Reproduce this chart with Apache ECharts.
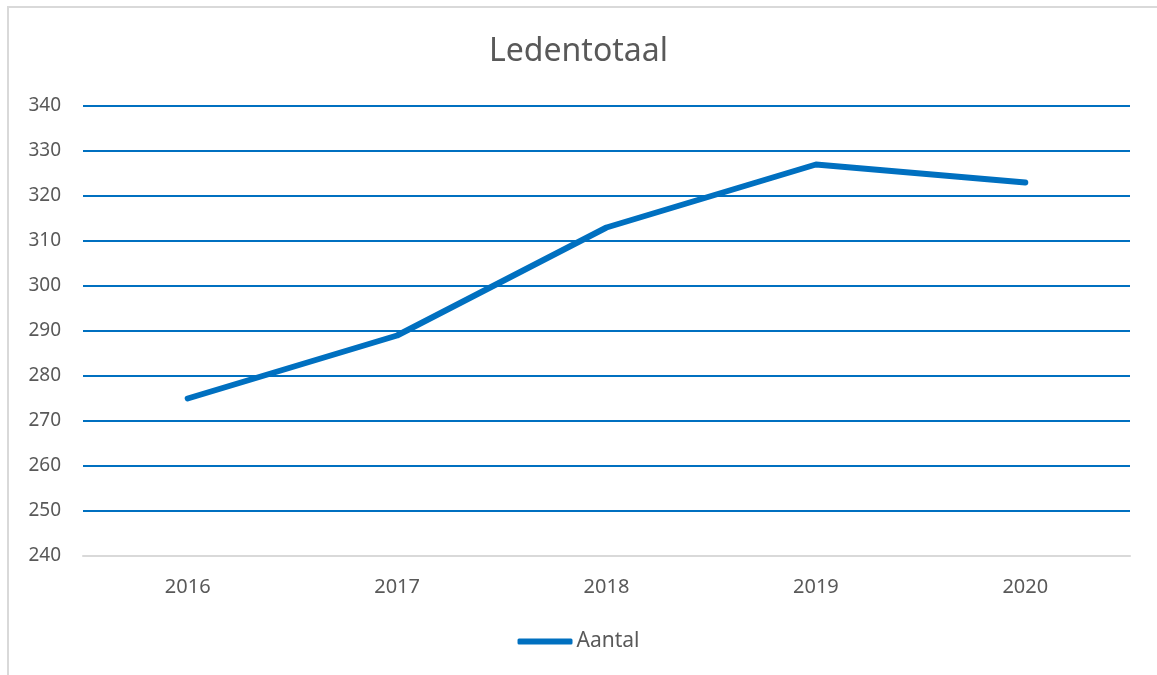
<!DOCTYPE html>
<html lang="nl">
<head>
    <meta charset="UTF-8">
    <title>Ledentotaal</title>
    <script src="https://cdn.jsdelivr.net/npm/echarts@6/dist/echarts.min.js"></script>
    <style>
        html, body { margin: 0; padding: 0; background: #fff; }
        #frame { position: absolute; left: 7px; top: 6px; width: 1160px; height: 680px;
                 border: 2px solid #d9d9d9; box-sizing: border-box; }
        #main { position: absolute; left: 0; top: 0; width: 1157px; height: 675px; }
    </style>
</head>
<body>
<div id="frame"></div>
<div id="main"></div>
<script type="text/javascript">
    // data
    var years = ['2016', '2017', '2018', '2019', '2020'];
    var aantal = [275, 289, 313, 327, 323];
    var yMin = 240, yMax = 340, yStep = 10;

    var blue = '#0070C0';
    var grey = '#595959';
    var font = 'Noto Sans';

    var myChart = echarts.init(document.getElementById('main'));
    var option = {
        animation: false,
        title: {
            text: 'Ledentotaal',
            left: 'center',
            top: 31,
            textStyle: { color: grey, fontSize: 32, fontWeight: 'normal', fontFamily: font }
        },
        legend: {
            bottom: 18,
            left: 'center',
            icon: 'roundRect',
            itemWidth: 55,
            itemHeight: 6,
            itemGap: 4,
            textStyle: { color: grey, fontSize: 21, fontFamily: font, padding: [0, 0, 0, -1] },
            data: ['Aantal']
        },
        grid: {
            left: 83,
            right: 27,
            top: 106,
            bottom: 119
        },
        xAxis: {
            type: 'category',
            data: years,
            boundaryGap: true,
            axisLine: { lineStyle: { color: '#d9d9d9', width: 2 } },
            axisTick: { show: false },
            axisLabel: { color: grey, fontSize: 20, fontFamily: font, margin: 21 }
        },
        yAxis: {
            type: 'value',
            min: yMin,
            max: yMax,
            interval: yStep,
            axisLine: { show: false },
            axisTick: { show: false },
            axisLabel: { color: grey, fontSize: 19, fontFamily: font, margin: 22 },
            splitLine: { lineStyle: { color: blue, width: 2 } }
        },
        series: [
            {
                name: 'Aantal',
                type: 'line',
                data: aantal,
                symbol: 'none',
                color: blue,
                lineStyle: { color: blue, width: 6, cap: 'round', join: 'round' },
                z: 5
            }
        ]
    };
    myChart.setOption(option);
</script>
</body>
</html>
